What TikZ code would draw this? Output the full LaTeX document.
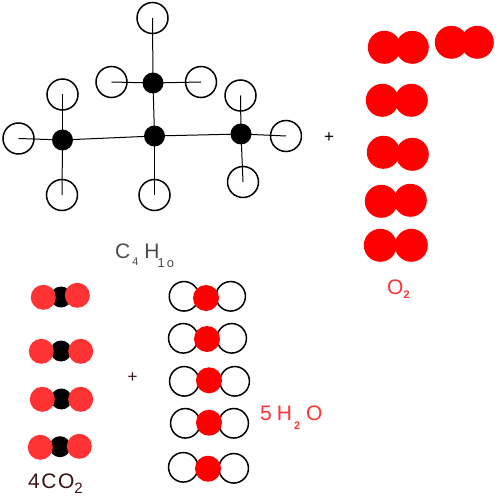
\documentclass[tikz,border=0pt]{standalone}
\usepackage{fontspec}
\setmainfont{Liberation Sans}
\usepackage{xcolor}
\usetikzlibrary{positioning}
\definecolor{oxyred}{HTML}{FF3333}
\definecolor{darkbrown}{HTML}{3A1414}
\newcommand{\sbs}[3]{\raisebox{-#1pt}{\fontsize{#2}{#2}\selectfont #3}}

\begin{document}
\begin{tikzpicture}[
    x=1pt, y=-1pt,
    hyd/.style={circle, draw=black, fill=white, line width=1.5pt, inner sep=0pt,
                minimum size=31pt},
    hyds/.style={hyd, minimum size=29.5pt},
    carb/.style={circle, fill=black, inner sep=0pt, minimum size=21pt},
    oxy/.style={circle, fill=red, inner sep=0pt, minimum size=33pt},
    oxyc/.style={circle, fill=oxyred, inner sep=0pt, minimum size=25pt},
    oxyw/.style={circle, fill=red, inner sep=0pt, minimum size=26pt},
    bond/.style={line width=1pt},
    labl/.style={font=\fontsize{21}{21}\selectfont, inner sep=0pt, anchor=base west}
  ]
  \useasboundingbox (0,0) rectangle (500,500);
  %% --- Butane ---
  % Hydrogens
  \node[hyd] (h1)  at (152.5, 18) {};
  \node[hyd] (h2)  at (111.5, 82) {};
  \node[hyd] (h3)  at (201,   82) {};
  \node[hyd] (h4)  at (62.5,  94.5) {};
  \node[hyd] (h5)  at (18.5,  138.5) {};
  \node[hyd] (h6)  at (62,    195) {};
  \node[hyd] (h7)  at (154.5, 195) {};
  \node[hyd] (h8)  at (240.5, 95.5) {};
  \node[hyd] (h9)  at (286,   136) {};
  \node[hyd] (h10) at (243,   182) {};
  % Carbons
  \node[carb] (c1) at (153,   83) {};
  \node[carb] (c2) at (154.5, 136) {};
  \node[carb] (c3) at (62.5,  140) {};
  \node[carb] (c4) at (241,   134) {};
  % Bonds
  \foreach \ca/\cb in {c1/h1,c1/h2,c1/h3,c1/c2,c2/c3,c2/c4,c2/h7,
                       c3/h4,c3/h5,c3/h6,c4/h8,c4/h9,c4/h10} {
    \draw[bond] (\ca.center) -- (\cb.center);
  }
  \node[labl, text=black!70] (butane) at (115, 258)
       {C\hspace{2pt}\sbs{7}{11}{4}\hspace{6pt}H\hspace{-2pt}\sbs{9}{13}{1\hspace{2pt}o}};

  %% --- Oxygen ---
  \node[oxy] (o1a) at (384.3, 47.3) {};
  \node[oxy] (o1b) at (412.3, 47.3) {};
  \node[oxy] (o2a) at (451.3, 42.3) {};
  \node[oxy] (o2b) at (477.3, 42.3) {};
  \node[oxy] (o3a) at (382.3, 100.3) {};
  \node[oxy] (o3b) at (411.3, 100.3) {};
  \node[oxy] (o4a) at (383.3, 152.3) {};
  \node[oxy] (o4b) at (412.3, 154.3) {};
  \node[oxy] (o5a) at (381.3, 201.3) {};
  \node[oxy] (o5b) at (410.3, 200.3) {};
  \node[oxy] (o6a) at (380.3, 245.3) {};
  \node[oxy] (o6b) at (411.3, 245.3) {};
  \node[labl, text=oxyred] (oxygen) at (387, 294) {O\hspace{0pt}\sbs{4}{11}{\bfseries 2}};
  \node[font=\fontsize{17}{17}\selectfont, inner sep=0pt] (plus1) at (329, 138) {+};

  %% --- Carbon dioxide ---
  \foreach \nm/\xa/\ya/\xb/\yb/\xc/\yc in {1/43.3/297.3/77.3/295.3/61/297,
                                           2/41.3/351.3/80.7/351.3/61/351,
                                           3/42.3/399.3/80.7/399.3/61.3/399,
                                           4/40.3/447.3/79.3/446.3/60/446.7} {
    \node[carb] (cc\nm) at (\xc,\yc) {};
    \node[oxyc] (cl\nm) at (\xa,\ya) {};
    \node[oxyc] (cr\nm) at (\xb,\yb) {};
  }
  \node[labl, text=darkbrown] (carbdiox) at (28, 488)
       {4\hspace{1.5pt}C\hspace{1.5pt}O\sbs{5}{15}{2}};
  \node[font=\fontsize{17}{17}\selectfont, text=darkbrown, inner sep=0pt] (plus2) at (132.5, 378) {+};

  %% --- Water ---
  \foreach \nm/\xa/\ya/\xb/\yb/\xc/\yc in {1/184/296.3/230.7/296.3/206/298,
                                           2/183.3/338.3/231.7/338.3/207/339,
                                           3/184.3/381.3/234.7/381.3/209/380.3,
                                           4/185.3/423.3/233.7/423.3/209/422.7,
                                           5/183.3/467.3/233.7/468.3/208/468.7} {
    \node[hyds] (wl\nm) at (\xa,\ya) {};
    \node[hyds] (wr\nm) at (\xb,\yb) {};
    \node[oxyw] (wo\nm) at (\xc,\yc) {};
  }
  \node[labl, text=oxyred] (water) at (260, 420)
       {5\hspace{5pt}H\hspace{2pt}\sbs{9}{11}{\bfseries 2}\hspace{6pt}O};
\end{tikzpicture}
\end{document}
